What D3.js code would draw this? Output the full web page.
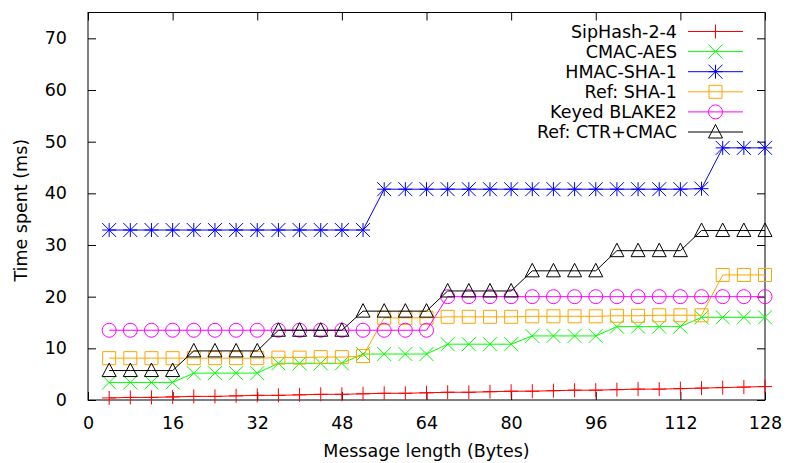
<!DOCTYPE html>
<html>
<head>
<meta charset="utf-8">
<script src="https://cdn.jsdelivr.net/npm/d3@7"></script>
<style>
  body { margin: 0; background: #fff; }
  text { font-family: "DejaVu Sans", sans-serif; font-size: 17.5px; fill: #000; }
</style>
</head>
<body>
<div id="chart"></div>
<script>
// message lengths (bytes)
const lengths = [4, 8, 12, 16, 20, 24, 28, 32, 36, 40, 44, 48, 52, 56, 60, 64,
                 68, 72, 76, 80, 84, 88, 92, 96, 100, 104, 108, 112, 116, 120, 124, 128];

const sipHash = [0.4, 0.5, 0.5, 0.6, 0.7, 0.7, 0.8, 0.9, 0.9, 1.0, 1.1, 1.1, 1.2, 1.3, 1.3, 1.4,
                 1.5, 1.5, 1.6, 1.7, 1.7, 1.8, 1.9, 1.9, 2.0, 2.1, 2.1, 2.2, 2.3, 2.4, 2.5, 2.6];
const cmacAes = [3.4, 3.4, 3.4, 3.4, 5.2, 5.2, 5.2, 5.2, 7.1, 7.1, 7.1, 7.1, 8.9, 8.9, 8.9, 8.9,
                 10.8, 10.8, 10.8, 10.8, 12.4, 12.4, 12.4, 12.4, 14.2, 14.2, 14.2, 14.2, 16.0, 16.0, 16.0, 16.0];
const hmacSha1 = [32.9, 32.9, 32.9, 32.9, 32.9, 32.9, 32.9, 32.9, 32.9, 32.9, 32.9, 32.9, 32.9, 40.8, 40.8, 40.8,
                  40.8, 40.8, 40.8, 40.8, 40.8, 40.8, 40.8, 40.8, 40.8, 40.8, 40.8, 40.8, 40.9, 48.8, 48.8, 48.8];
const refSha1 = [8.1, 8.1, 8.1, 8.1, 8.1, 8.1, 8.1, 8.1, 8.2, 8.2, 8.3, 8.3, 8.5, 15.9, 15.9, 15.9,
                 16.1, 16.1, 16.1, 16.1, 16.2, 16.2, 16.2, 16.2, 16.3, 16.3, 16.4, 16.4, 16.4, 24.2, 24.2, 24.2];
const blake2 = [13.5, 13.5, 13.5, 13.5, 13.5, 13.5, 13.5, 13.5, 13.5, 13.5, 13.5, 13.5, 13.5, 13.5, 13.5, 13.5,
                20.0, 20.0, 20.0, 20.0, 20.0, 20.0, 20.0, 20.0, 20.0, 20.0, 20.0, 20.0, 20.0, 20.0, 20.0, 20.0];
const ctrCmac = [5.7, 5.7, 5.7, 5.7, 9.5, 9.5, 9.5, 9.5, 13.5, 13.5, 13.5, 13.5, 17.2, 17.2, 17.2, 17.2,
                 21.1, 21.1, 21.1, 21.1, 25.0, 25.0, 25.0, 25.0, 28.9, 28.9, 28.9, 28.9, 32.8, 32.8, 32.8, 32.8];

const seriesNames = ["SipHash-2-4", "CMAC-AES", "HMAC-SHA-1", "Ref: SHA-1", "Keyed BLAKE2", "Ref: CTR+CMAC"];
const seriesColors = ["#ff0000", "#00ff00", "#0000ff", "#ffa500", "#ff00ff", "#000000"];
const seriesMarks = ["plus", "cross", "star", "square", "circle", "triangle"];
const seriesValues = [sipHash, cmacAes, hmacSha1, refSha1, blake2, ctrCmac];

const xTicks = [0, 16, 32, 48, 64, 80, 96, 112, 128];
const yTicks = [0, 10, 20, 30, 40, 50, 60, 70];

var margin = {top: 12.5, right: 22, bottom: 63, left: 88},
  width = 787 - margin.left - margin.right,
  height = 463 - margin.top - margin.bottom;

var svg = d3.select("#chart").append("svg")
    .attr("width", 787)
    .attr("height", 463),
  g = svg.append("g")
    .attr("transform", "translate(" + margin.left + "," + margin.top + ")");

var x = d3.scaleLinear().domain([0, 128]).range([0, width]);
var y = d3.scaleLinear().domain([0, 75]).range([height, 0]);

// axes with inward ticks, mirrored on top and right
g.append("g").attr("transform", "translate(0," + height + ")")
  .call(d3.axisBottom(x).tickValues(xTicks).tickSizeInner(-8).tickSizeOuter(0).tickPadding(17));
g.append("g").call(d3.axisTop(x).tickValues(xTicks).tickSizeInner(-8).tickSizeOuter(0).tickFormat(""));
g.append("g").call(d3.axisLeft(y).tickValues(yTicks).tickSizeInner(-8).tickSizeOuter(0).tickPadding(21));
g.append("g").attr("transform", "translate(" + width + ",0)")
  .call(d3.axisRight(y).tickValues(yTicks).tickSizeInner(-8).tickSizeOuter(0).tickFormat(""));
g.selectAll(".domain").remove();
g.selectAll(".tick line").attr("stroke", "#000");
g.selectAll(".tick text").style("font-size", "17.5px").attr("font-family", null);

g.append("rect")
  .attr("width", width).attr("height", height)
  .attr("fill", "none").attr("stroke", "#000").attr("stroke-width", 1);

// marker path generator (half size s)
const markPath = (type, s) => {
  switch (type) {
    case "plus": return `M${-s},0H${s}M0,${-s}V${s}`;
    case "cross": return `M${-s},${-s}L${s},${s}M${-s},${s}L${s},${-s}`;
    case "star": return `M${-s},0H${s}M0,${-s}V${s}M${-s},${-s}L${s},${s}M${-s},${s}L${s},${-s}`;
    case "square": return `M${-s+0.5},${-s+0.5}H${s-0.5}V${s-0.5}H${-s+0.5}Z`;
    case "circle": return d3.arc()({innerRadius: 0, outerRadius: s, startAngle: 0, endAngle: 2 * Math.PI});
    case "triangle": return `M0,${-s - 0.5}L${s},${s - 1}L${-s},${s - 1}Z`;
  }
};

const line = d3.line()
  .x((d, i) => x(lengths[i]))
  .y(d => y(d));

seriesValues.forEach((vals, k) => {
  const sg = g.append("g");
  sg.append("path")
    .attr("d", line(vals))
    .attr("fill", "none")
    .attr("stroke", seriesColors[k])
    .attr("stroke-width", 1);
  sg.selectAll("path.mark")
    .data(vals)
    .enter().append("path")
    .attr("class", "mark")
    .attr("transform", (d, i) => "translate(" + x(lengths[i]) + "," + y(d) + ")")
    .attr("d", markPath(seriesMarks[k], 7))
    .attr("fill", "none")
    .attr("stroke", seriesColors[k])
    .attr("stroke-width", 1);
});

// legend
const legend = svg.append("g");
seriesNames.forEach((name, k) => {
  const ly = 31.5 + k * 20.1;
  legend.append("text")
    .attr("x", 677).attr("y", ly)
    .attr("dy", "0.35em")
    .attr("text-anchor", "end")
    .text(name);
  legend.append("line")
    .attr("x1", 688).attr("x2", 743)
    .attr("y1", ly).attr("y2", ly)
    .attr("stroke", seriesColors[k]);
  legend.append("path")
    .attr("transform", "translate(715.5," + ly + ")")
    .attr("d", markPath(seriesMarks[k], 7))
    .attr("fill", "none")
    .attr("stroke", seriesColors[k]);
});

// axis titles
svg.append("text")
  .attr("x", margin.left + width / 2).attr("y", 451)
  .attr("dy", "0.35em")
  .attr("text-anchor", "middle")
  .text("Message length (Bytes)");
svg.append("text")
  .attr("transform", "translate(21," + (margin.top + height / 2 + 4) + ") rotate(-90)")
  .attr("dy", "0.35em")
  .attr("text-anchor", "middle")
  .text("Time spent (ms)");
</script>
</body>
</html>
